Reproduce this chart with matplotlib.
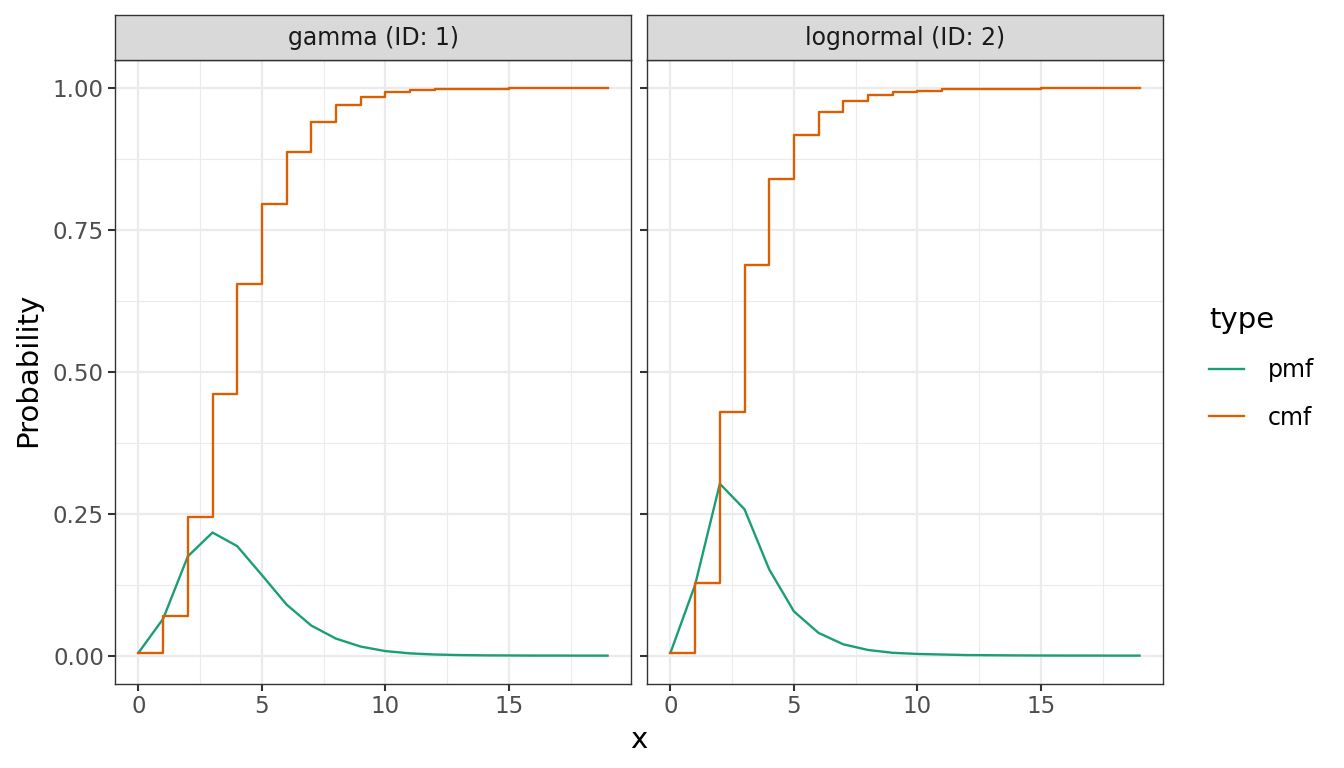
import numpy as np
import matplotlib
matplotlib.use("Agg")
import matplotlib.pyplot as plt
from matplotlib.lines import Line2D

# values
x = list(range(20))

gamma_pmf = [0.005, 0.065, 0.175, 0.217, 0.193, 0.142, 0.090, 0.053, 0.030, 0.016,
             0.008, 0.004, 0.002, 0.001, 0.0005, 0.0003, 0.0001, 0.0001, 0.0, 0.0]
gamma_cmf = [0.005, 0.070, 0.245, 0.462, 0.655, 0.797, 0.887, 0.940, 0.970, 0.985,
             0.993, 0.997, 0.9985, 0.9993, 0.9997, 0.9999, 1.0, 1.0, 1.0, 1.0]

lnorm_pmf = [0.005, 0.125, 0.303, 0.258, 0.152, 0.078, 0.040, 0.020, 0.010, 0.005,
             0.003, 0.002, 0.001, 0.0007, 0.0004, 0.0002, 0.0001, 0.0001, 0.0, 0.0]
lnorm_cmf = [0.005, 0.128, 0.430, 0.688, 0.840, 0.918, 0.958, 0.978, 0.988, 0.993,
             0.996, 0.998, 0.999, 0.9995, 0.9997, 0.9998, 0.9999, 1.0, 1.0, 1.0]

panels = ["gamma (ID: 1)", "lognormal (ID: 2)"]
pmfs = [gamma_pmf, lnorm_pmf]
cmfs = [gamma_cmf, lnorm_cmf]

pmf_col = "#1B9E77"
cmf_col = "#D95F02"

fig = plt.figure(figsize=(13.44, 7.68), dpi=100)
W, H = 1344, 768

for i, name in enumerate(panels):
    left = [115, 647][i]
    ax = fig.add_axes([left / W, 1 - 684 / H, 516 / W, 624 / H])
    ax.set_facecolor("white")
    ax.plot(x, pmfs[i], color=pmf_col, lw=1.7, zorder=3)
    ax.step(x, cmfs[i], where="post", color=cmf_col, lw=1.7, zorder=3)

    ax.set_xlim(-0.95, 19.95)
    ax.set_ylim(-0.05, 1.05)
    ax.set_xticks([0, 5, 10, 15])
    ax.set_xticks([2.5, 7.5, 12.5, 17.5], minor=True)
    ax.set_yticks([0, 0.25, 0.5, 0.75, 1.0])
    ax.set_yticks([0.125, 0.375, 0.625, 0.875], minor=True)
    ax.grid(which="major", color="#EBEBEB", lw=1.6, zorder=0)
    ax.grid(which="minor", color="#EBEBEB", lw=0.8, zorder=0)
    ax.set_axisbelow(True)
    for s in ax.spines.values():
        s.set_color("#333333")
        s.set_linewidth(1.0)
    ax.tick_params(which="major", length=5, width=1.5, color="#333333",
                   labelcolor="#4D4D4D", labelsize=16.5, pad=3)
    ax.tick_params(which="minor", length=0)
    if i == 0:
        ax.set_yticklabels(["0.00", "0.25", "0.50", "0.75", "1.00"])
    else:
        ax.set_yticklabels([])

    # facet strip
    sax = fig.add_axes([left / W, 1 - 60 / H, 516 / W, 45 / H])
    sax.set_facecolor("#D9D9D9")
    sax.set_xticks([])
    sax.set_yticks([])
    for s in sax.spines.values():
        s.set_color("#333333")
        s.set_linewidth(1.0)
    sax.text(0.5, 0.5, name, ha="center", va="center", fontsize=17,
             color="#1A1A1A", transform=sax.transAxes)

fig.text(639 / W, 1 - 740 / H, "x", ha="center", va="center", fontsize=21)
fig.text(28 / W, 1 - 370 / H, "Probability", ha="center", va="center",
         rotation=90, fontsize=21)

handles = [Line2D([], [], color=pmf_col, lw=1.7),
           Line2D([], [], color=cmf_col, lw=1.7)]
leg = fig.legend(handles, ["pmf", "cmf"], title="type", loc="center left",
                 bbox_to_anchor=(1197 / W, 1 - 368 / H), frameon=False,
                 fontsize=17, title_fontsize=21, handlelength=1.5,
                 labelspacing=1.0, handletextpad=1.0, borderpad=0)
leg._legend_box.align = "left"

fig.savefig("out.png", dpi=100)
